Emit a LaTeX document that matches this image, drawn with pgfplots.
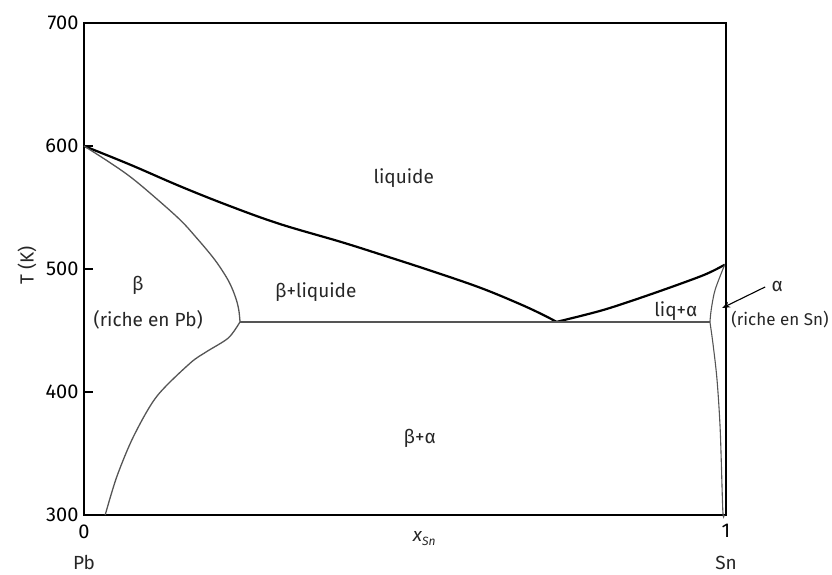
\documentclass[border=0pt]{standalone}
\usepackage{pgfplots}
\pgfplotsset{compat=1.18}
\usetikzlibrary{arrows.meta}
\usepackage{fontspec}
\setmainfont{Fira Sans}

\definecolor{phaseline}{HTML}{555555}

\begin{document}
\begin{tikzpicture}
\begin{axis}[
  scale only axis,
  width=642pt, height=492pt,
  xmin=0, xmax=1, ymin=300, ymax=700,
  clip=false,
  axis line style={line width=1.5pt},
  xtick={0,1}, xticklabels={0,1},
  xtick style={draw=none},
  ytick={300,400,500,600,700},
  ytick pos=left,
  ytick style={line width=1.2pt, black},
  tick align=inside,
  major tick length=9pt,
  /pgf/number format/assume math mode=true,
  tick label style={font=\fontsize{20}{23}\selectfont},
  yticklabel style={xshift=-2pt},
  xticklabel style={yshift=-6pt},
]

% liquidus, Pb side down to the eutectic
\addplot[black, line width=2.2pt, smooth, tension=0.6] coordinates {
  (0,600) (0.072,584.8) (0.150,567.2) (0.227,551.2) (0.305,536.6)
  (0.399,522.2) (0.461,512.0) (0.539,498.8) (0.617,484.8)
  (0.679,471.5) (0.716,462.5) (0.736,457)
};
% liquidus, Sn side
\addplot[black, line width=2.2pt, smooth, tension=0.5] coordinates {
  (0.736,457) (0.809,466.7) (0.887,480.2) (0.965,495) (0.998,503.5)
};

% solidus of beta (Pb-rich)
\addplot[phaseline, line width=1.3pt, smooth, tension=0.6] coordinates {
  (0,600) (0.036,588) (0.072,575) (0.110,558.5) (0.150,539.8)
  (0.175,525.5) (0.200,510) (0.215,499) (0.227,488.4)
  (0.236,477) (0.241,467) (0.243,457)
};
% solvus of beta
\addplot[phaseline, line width=1.3pt, smooth, tension=0.5] coordinates {
  (0.243,457) (0.225,444) (0.191,432.8) (0.165,423.3) (0.113,396.2)
  (0.077,363.7) (0.051,331) (0.033,300)
};

% eutectic isotherm
\addplot[phaseline, line width=1.3pt] coordinates {(0.243,457) (0.975,457)};

% solidus and solvus of alpha (Sn-rich)
\addplot[phaseline, line width=1.1pt, smooth, tension=0.5] coordinates {
  (0.998,503.5) (0.983,483) (0.977,467) (0.975,457)
};
\addplot[phaseline, line width=1.1pt, smooth, tension=0.5] coordinates {
  (0.975,457) (0.980,438) (0.986,410) (0.991,369) (0.995,304) (0.997,300)
};

% phase labels
\begin{scope}[every node/.style={font=\fontsize{19}{22}\selectfont, text=black!85}]
\node at (axis cs:0.498,574) {liquide};
\node at (axis cs:0.084,487) {β};
\node at (axis cs:0.100,458.5) {(riche en Pb)};
\node at (axis cs:0.361,481) {β+liquide};
\node at (axis cs:0.922,466) {liq+α};
\node at (axis cs:0.523,362.6) {β+α};
\node at (axis cs:1.080,486) {α};
\node[font=\fontsize{17}{20}\selectfont] at (axis cs:1.084,458.5) {(riche en Sn)};
\node at (axis cs:0,261) {Pb};
\node at (axis cs:1,261) {Sn};
\node at ([yshift=-24pt]axis cs:0.53,300) {\itshape x\raisebox{-4pt}{\fontsize{12}{12}\selectfont Sn}};
\node[rotate=90] at ([xshift=-57pt]axis cs:0,503) {T (K)};
\end{scope}

% pointer to the alpha region
\draw[black, line width=1.1pt, -{Stealth[length=8pt,width=6pt]}]
  (axis cs:1.061,485.4) -- (axis cs:0.994,468.3);

\coordinate (sw) at (axis cs:0,300);
\end{axis}
\pgfresetboundingbox
\path (sw) ++(-84pt,-60pt) rectangle ++(832pt,575pt);
\end{tikzpicture}
\end{document}
